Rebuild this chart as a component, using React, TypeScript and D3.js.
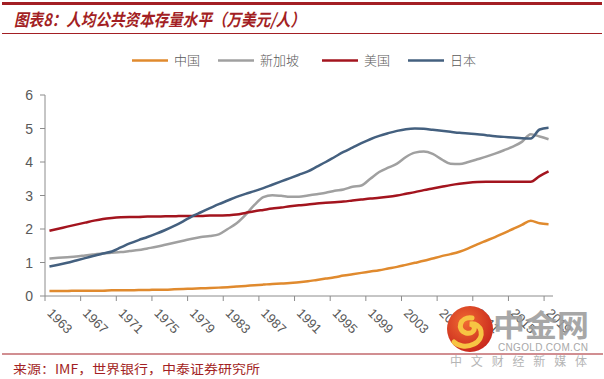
import React from "react";
import * as d3 from "d3";

const years: number[] = d3.range(1963, 2020);
const tickYears: number[] = d3.range(1963, 2020, 4);
const yTicks: number[] = [0, 1, 2, 3, 4, 5, 6];

const china: number[] = [
  0.15, 0.15, 0.15, 0.16, 0.16, 0.16, 0.16, 0.17, 0.17, 0.17,
  0.18, 0.18, 0.19, 0.19, 0.2, 0.21, 0.22, 0.23, 0.24, 0.25,
  0.26, 0.28, 0.3, 0.32, 0.34, 0.36, 0.37, 0.39, 0.41, 0.44,
  0.48, 0.52, 0.56, 0.61, 0.65, 0.69, 0.73, 0.77, 0.82, 0.87,
  0.93, 0.99, 1.05, 1.12, 1.19, 1.25, 1.32, 1.42, 1.54, 1.65,
  1.76, 1.88, 2.0, 2.12, 2.25, 2.17, 2.14,
];
const singapore: number[] = [
  1.12, 1.14, 1.16, 1.18, 1.21, 1.24, 1.27, 1.29, 1.31, 1.34,
  1.37, 1.42, 1.47, 1.53, 1.59, 1.65, 1.71, 1.76, 1.79, 1.84,
  2.0, 2.17, 2.42, 2.72, 2.95, 3.01, 2.99, 2.96, 2.96, 3.0,
  3.04, 3.08, 3.14, 3.18, 3.26, 3.3, 3.5, 3.7, 3.83, 3.95,
  4.15, 4.28, 4.31, 4.24, 4.08, 3.95, 3.94, 4.0, 4.08, 4.16,
  4.25, 4.35, 4.46, 4.6, 4.83, 4.76, 4.68,
];
const usa: number[] = [
  1.95, 2.01, 2.07, 2.13, 2.19, 2.25, 2.3, 2.33, 2.35, 2.36,
  2.36, 2.37, 2.37, 2.38, 2.38, 2.39, 2.39, 2.39, 2.4, 2.4,
  2.41, 2.43, 2.48, 2.53, 2.57, 2.61, 2.64, 2.68, 2.71, 2.73,
  2.76, 2.78, 2.8, 2.82, 2.85, 2.88, 2.91, 2.93, 2.96, 3.0,
  3.05, 3.1, 3.16, 3.21, 3.26, 3.31, 3.35, 3.38, 3.4, 3.41,
  3.41, 3.41, 3.41, 3.41, 3.41, 3.58, 3.72,
];
const japan: number[] = [
  0.88, 0.93, 0.99, 1.06, 1.13, 1.2, 1.27, 1.33, 1.45, 1.57,
  1.67, 1.76, 1.86, 1.97, 2.09, 2.23, 2.38, 2.5, 2.62, 2.74,
  2.85, 2.96, 3.05, 3.13, 3.22, 3.32, 3.42, 3.52, 3.62, 3.72,
  3.86, 4.0, 4.15, 4.3, 4.43, 4.56, 4.68, 4.78, 4.86, 4.93,
  4.98, 5.0, 4.99, 4.96, 4.93, 4.9, 4.87, 4.85, 4.83, 4.8,
  4.77, 4.75, 4.73, 4.71, 4.7, 4.97, 5.02,
];

const seriesNames: string[] = ["中国", "新加坡", "美国", "日本"];
const seriesColors: string[] = ["#E08A2E", "#A0A0A0", "#A3141E", "#44607F"];
const seriesData: number[][] = [china, singapore, usa, japan];

const title = "图表8：人均公共资本存量水平（万美元/人）";
const source = "来源：IMF，世界银行，中泰证券研究所";

const W = 604;
const H = 379;
const plotL = 45;
const plotR = 553;
const plotT = 95;
const plotB = 296;
const dark = "#A31F24";
const axisColor = "#8C8C8C";
const textColor = "#595959";

export default function App() {
  const x = d3.scaleBand<number>().domain(years).range([plotL, plotR]).padding(0);
  const y = d3.scaleLinear().domain([0, 6]).range([plotB, plotT]);
  const cx = (yr: number) => (x(yr) as number) + x.bandwidth() / 2;
  const line = d3
    .line<number>()
    .x((_, i) => cx(years[i]))
    .y((d) => y(d))
    .curve(d3.curveMonotoneX);

  const legendX = [132, 218, 322, 408];

  return (
    <svg
      width={W}
      height={H}
      style={{ position: "absolute", left: 0, top: 0, background: "#fff" }}
    >
      <defs>
        <radialGradient id="logoGrad" cx="40%" cy="35%" r="70%">
          <stop offset="0%" stopColor="#F06A32" />
          <stop offset="100%" stopColor="#C7251C" />
        </radialGradient>
      </defs>
      <rect x={0} y={0} width={W} height={H} fill="#fff" />
      {/* header */}
      <rect x={2} y={2} width={600} height={3} fill={dark} />
      <text
        x={14}
        y={26}
        fill={dark}
        fontSize={17}
        fontWeight="bold"
        fontStyle="italic"
        fontFamily="'Noto Sans CJK SC', sans-serif"
        textLength={291}
        lengthAdjust="spacingAndGlyphs"
      >
        {title}
      </text>
      <line x1={2} x2={602} y1={33.5} y2={33.5} stroke={dark} strokeWidth={1} />

      {/* legend */}
      {seriesNames.map((n, i) => (
        <g key={n}>
          <line
            x1={legendX[i]}
            x2={legendX[i] + 36}
            y1={60.5}
            y2={60.5}
            stroke={seriesColors[i]}
            strokeWidth={2.5}
          />
          <text
            x={legendX[i] + 42}
            y={65}
            fontSize={13}
            fill={textColor}
            fontFamily="'Noto Sans CJK SC', sans-serif"
            fontWeight={300}
          >
            {n}
          </text>
        </g>
      ))}

      {/* y axis */}
      <line x1={plotL} x2={plotL} y1={plotT} y2={plotB} stroke={axisColor} strokeWidth={1} />
      {yTicks.map((t) => (
        <g key={t}>
          <line x1={plotL - 5} x2={plotL} y1={y(t)} y2={y(t)} stroke={axisColor} />
          <text
            x={33}
            y={y(t) + 5}
            textAnchor="end"
            fontSize={14}
            fill={textColor}
            fontFamily="'Liberation Sans', Arial, sans-serif"
          >
            {t}
          </text>
        </g>
      ))}

      {/* x axis */}
      <line x1={plotL} x2={plotR} y1={plotB} y2={plotB} stroke={axisColor} strokeWidth={1} />
      {tickYears.map((yr) => (
        <line
          key={"t" + yr}
          x1={x(yr) as number}
          x2={x(yr) as number}
          y1={plotB}
          y2={plotB + 5}
          stroke={axisColor}
        />
      ))}
      {tickYears.map((yr) => (
        <text
          key={"l" + yr}
          transform={`translate(${cx(yr) - 3},${314}) rotate(45)`}
          fontSize={13}
          fill={textColor}
          fontFamily="'Liberation Sans', Arial, sans-serif"
        >
          {yr}
        </text>
      ))}

      {/* series */}
      {seriesData.map((d, i) => (
        <path
          key={seriesNames[i]}
          d={line(d) || ""}
          fill="none"
          stroke={seriesColors[i]}
          strokeWidth={2.5}
          strokeLinejoin="round"
        />
      ))}

      {/* watermark */}
      <g>
        <circle cx={470} cy={329} r={23} fill="url(#logoGrad)" />
        <path
          d="M 472 318 C 460 316, 456 330, 466 333 C 474 335, 478 326, 470 324 C 482 322, 486 338, 474 344 C 466 348, 458 346, 454 342"
          fill="none"
          stroke="#F7C443"
          strokeWidth={5}
          strokeLinecap="round"
        />
        <text
          x={493}
          y={336}
          fontSize={30}
          fontWeight="bold"
          fill="#9E9E9E"
          fontFamily="'Noto Sans CJK SC', sans-serif"
          textLength={96}
          lengthAdjust="spacingAndGlyphs"
          opacity={0.9}
        >
          中金网
        </text>
      </g>

      {/* footer */}
      <line x1={2} x2={603} y1={354} y2={354} stroke={dark} strokeWidth={1} />
      <text
        x={498}
        y={351}
        fontSize={10}
        fill="#A8A8A8"
        fontFamily="'Liberation Sans', Arial, sans-serif"
        textLength={90}
      >
        CNGOLD.COM.CN
      </text>
      <text
        x={450}
        y={366}
        fontSize={12}
        fill="#B5B5B5"
        fontFamily="'Noto Sans CJK SC', sans-serif"
        textLength={137}
      >
        中文财经新媒体
      </text>
      <text
        x={13}
        y={374}
        fontSize={12.5}
        fill={dark}
        fontFamily="'Noto Sans CJK SC', sans-serif"
        textLength={247}
        lengthAdjust="spacingAndGlyphs"
      >
        {source}
      </text>
    </svg>
  );
}
